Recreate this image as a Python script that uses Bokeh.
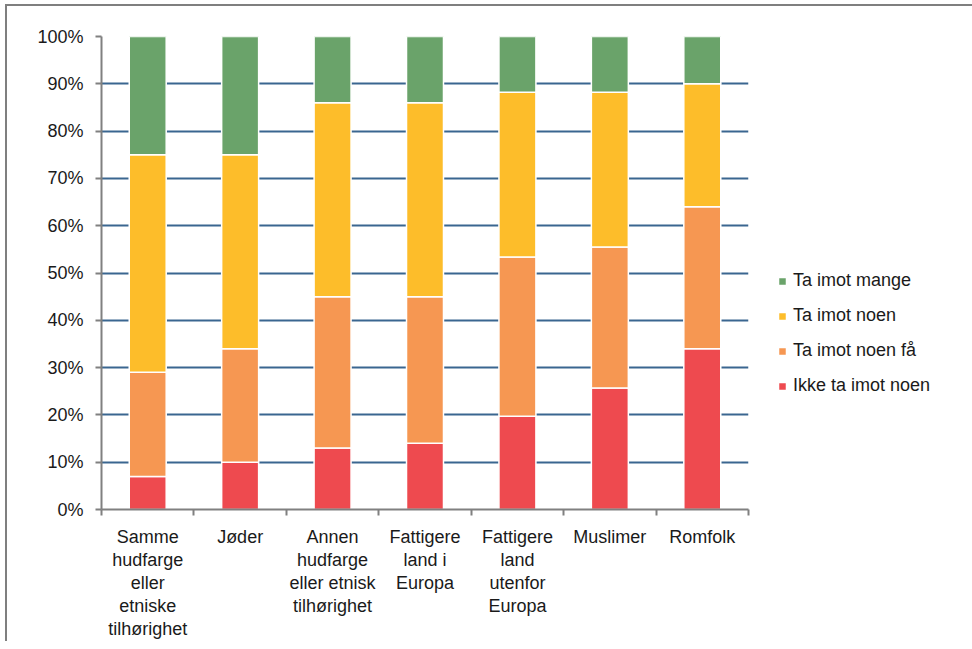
from bokeh.plotting import figure
from bokeh.models import FixedTicker, Legend, LegendItem, ColumnDataSource
from bokeh.embed import file_html
from bokeh.resources import INLINE

categories = ["Samme\nhudfarge\neller\netniske\ntilhørighet", "Jøder",
              "Annen\nhudfarge\neller etnisk\ntilhørighet", "Fattigere\nland i\nEuropa",
              "Fattigere\nland\nutenfor\nEuropa", "Muslimer", "Romfolk"]
ikke_ta_imot = [7, 10, 13, 14, 19.7, 25.7, 34]
ta_imot_noen_fa = [22, 24, 32, 31, 33.7, 29.8, 30]
ta_imot_noen = [46, 41, 41, 41, 34.8, 32.7, 26]
ta_imot_mange = [25, 25, 14, 14, 11.8, 11.8, 10]
series_names = ["Ikke ta imot noen", "Ta imot noen få", "Ta imot noen", "Ta imot mange"]
colors = ["#ee4a4f", "#f69752", "#fdbd2a", "#6aa36a"]
y_ticks = [0, 10, 20, 30, 40, 50, 60, 70, 80, 90, 100]

FONT = "Liberation Sans"
FS = "18px"
n = len(categories)
xs = [i + 0.5 for i in range(n)]

p = figure(frame_width=647, frame_height=473, x_range=(0, n), y_range=(0, 100),
           output_backend="svg", toolbar_location=None,
           min_border_left=94, min_border_top=30, min_border_bottom=128, min_border_right=0)
p.styles = {"border-left": "2px solid #7f7f7f", "border-top": "2px solid #7f7f7f",
            "border-right": "2px solid #7f7f7f", "margin-left": "5px", "margin-top": "4px"}
p.outline_line_color = None
p.background_fill_color = "white"

series = [ikke_ta_imot, ta_imot_noen_fa, ta_imot_noen, ta_imot_mange]
bottoms = [0.0] * n
renderers = []
for vals, col in zip(series, colors):
    tops = [b + v for b, v in zip(bottoms, vals)]
    src = ColumnDataSource(dict(x=xs, bottom=bottoms, top=tops))
    r = p.vbar(x="x", width=0.4, bottom="bottom", top="top", source=src,
               fill_color=col, line_color="white", line_width=1.5)
    renderers.append(r)
    bottoms = tops

# axes
p.yaxis.ticker = FixedTicker(ticks=y_ticks)
p.yaxis.major_label_overrides = {t: f"{t}%" for t in y_ticks}
p.yaxis.major_label_text_font = FONT
p.yaxis.major_label_text_font_size = FS
p.yaxis.major_label_text_color = "#1a1a1a"
p.yaxis.axis_line_color = "#808080"
p.yaxis.axis_line_width = 2
p.yaxis.major_tick_line_color = "#808080"
p.yaxis.major_tick_line_width = 2
p.yaxis.major_tick_out = 6
p.yaxis.major_tick_in = 0
p.yaxis.minor_tick_line_color = None
p.yaxis.major_label_standoff = 12

p.xaxis.ticker = FixedTicker(ticks=xs, minor_ticks=list(range(n + 1)))
p.xaxis.major_label_overrides = {x: c for x, c in zip(xs, categories)}
p.xaxis.major_label_text_font = FONT
p.xaxis.major_label_text_font_size = FS
p.xaxis.major_label_text_color = "#1a1a1a"
p.xaxis.major_label_text_align = "center"
p.xaxis.major_label_text_line_height = 1.15
p.xaxis.axis_line_color = "#808080"
p.xaxis.axis_line_width = 2
p.xaxis.major_tick_line_color = None
p.xaxis.minor_tick_line_color = "#808080"
p.xaxis.minor_tick_line_width = 2
p.xaxis.minor_tick_out = 6
p.xaxis.minor_tick_in = 0
p.xaxis.major_label_standoff = 11

p.xgrid.grid_line_color = None
p.ygrid.ticker = FixedTicker(ticks=y_ticks)
p.ygrid.grid_line_color = "#3a6690"
p.ygrid.grid_line_width = 2

items = [LegendItem(label=series_names[i], renderers=[renderers[i]]) for i in [3, 2, 1, 0]]
legend = Legend(items=items, location=(29, 113), border_line_color=None,
                background_fill_alpha=0, margin=20, padding=0,
                label_text_font=FONT, label_text_font_size=FS, label_text_color="#1a1a1a",
                glyph_width=10, glyph_height=10, spacing=14, label_standoff=6,
                label_height=21)
p.add_layout(legend, "right")

open("out.html", "w").write(file_html(p, INLINE))
